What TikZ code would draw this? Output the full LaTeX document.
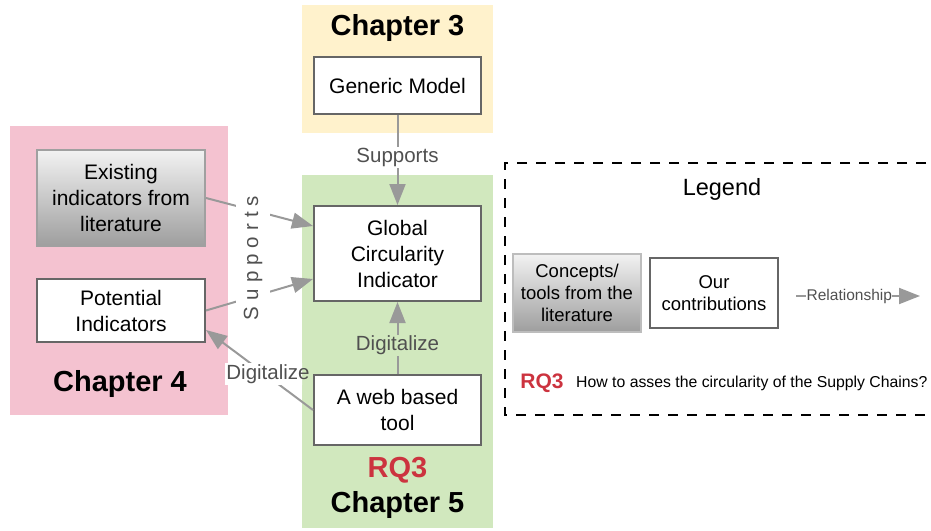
\documentclass[tikz,border=0pt]{standalone}
\usepackage{fontspec}
\setmainfont{Liberation Sans}
\usetikzlibrary{arrows.meta}
\definecolor{pinkbg}{RGB}{244,194,208}
\definecolor{yellowbg}{RGB}{255,242,204}
\definecolor{greenbg}{RGB}{209,232,190}
\definecolor{arrgray}{RGB}{153,153,153}
\definecolor{boxgray}{RGB}{102,102,102}
\definecolor{litborder}{RGB}{160,160,160}
\definecolor{littop}{RGB}{242,242,242}
\definecolor{litbot}{RGB}{158,158,158}
\definecolor{lblgray}{RGB}{80,80,80}
\definecolor{rqred}{RGB}{204,51,63}
\begin{document}
\begin{tikzpicture}[x=1pt,y=-1pt,
  box/.style={draw=boxgray,line width=2pt,fill=white,align=center,inner sep=2pt,
    font=\fontsize{21}{26}\selectfont},
  litbox/.style={draw=litborder,line width=2pt,top color=littop,bottom color=litbot,
    align=center,inner sep=2pt,font=\fontsize{21}{26}\selectfont},
  legbox/.style={box,font=\fontsize{18.5}{21.7}\selectfont},
  leglit/.style={litbox,draw=litborder!70,font=\fontsize{18.5}{21.7}\selectfont},
  arr/.style={draw=arrgray,line width=2pt,-{Triangle[length=21pt,width=16pt]}},
  lbl/.style={text=lblgray,font=\fontsize{20.5}{24}\selectfont,inner sep=1pt},
  chap/.style={font=\fontsize{29}{34}\selectfont\bfseries,inner sep=0pt},
]
\useasboundingbox (0,0) rectangle (931,530);
% backgrounds
\fill[pinkbg] (10,126) rectangle (228,415);
\fill[yellowbg] (302,5) rectangle (493,133);
\fill[greenbg] (302,175) rectangle (493,528);
% chapter labels
\node[chap] (ch3) at (397.5,28) {Chapter 3};
\node[chap] (ch4) at (120,384) {Chapter 4};
\node[chap,text=rqred] (rq3a) at (397.5,470) {RQ3};
\node[chap] (ch5) at (397.5,505) {Chapter 5};
% boxes
\node[box,minimum width=167pt,minimum height=57pt] (gen) at (397.5,85.5) {Generic Model};
\node[box,minimum width=167pt,minimum height=95pt] (glob) at (397.5,253.5) {Global\\Circularity\\Indicator};
\node[box,minimum width=167pt,minimum height=70pt] (web) at (397.5,410) {A web based\\tool};
\node[litbox,minimum width=168pt,minimum height=96pt] (exist) at (121,198) {Existing\\indicators from\\literature};
\node[box,minimum width=168pt,minimum height=63pt] (pot) at (121,310.5) {Potential\\Indicators};
% arrows
\draw[arr] (gen) -- node[lbl,fill=white,pos=0.47] (sup1) {Supports} (glob);
\draw[arr] (web) -- node[lbl,fill=greenbg,pos=0.4] (dig1) {Digitalize} (glob);
\draw[arr] (exist.east) -- ([yshift=27.5pt]glob.west);
\draw[arr] (pot.east) -- ([yshift=-25.5pt]glob.west);
\node[lbl,rotate=90,fill=white,inner ysep=8pt,inner xsep=2pt] (sup2) at (253,258)
  {S\kern6pt u\kern6pt p\kern6pt p\kern6pt o\kern6pt r\kern6pt t\kern6pt s};
\draw[arr] (web.west) -- ([yshift=-19.5pt]pot.east);
\begin{scope}
  \clip (0,0) rectangle (302,530);
  \node[lbl,fill=white,text opacity=0] (dig2bg) at (268,374) {Digitalize};
\end{scope}
\node[lbl] (dig2) at (268,374) {Digitalize};
% legend
\draw[line width=2pt,dash pattern=on 10pt off 9pt] (945,163) -- (505,163) -- (505,415) -- (945,415);
\node[font=\fontsize{23.5}{28}\selectfont] (leg) at (722,189) {Legend};
\node[leglit,minimum width=128pt,minimum height=78pt] (conc) at (577,293) {Concepts/\\tools from the\\literature};
\node[legbox,minimum width=128pt,minimum height=70pt] (contr) at (714,293) {Our\\contributions};
\coordinate (rs) at (796,296);
\coordinate (re) at (920,296);
\draw[arr] (rs) -- node[text=lblgray,font=\fontsize{15.5}{18}\selectfont,fill=white,inner sep=0.5pt,pos=0.43] (rel) {Relationship} (re);
\node[font=\fontsize{21}{25}\selectfont\bfseries,text=rqred,inner sep=0pt] (rq3b) at (542,383) {RQ3};
\node[font=\fontsize{15.8}{19}\selectfont,anchor=west,inner sep=0pt] (rqq) at (576,383) {How to asses the circularity of the Supply Chains?};
\end{tikzpicture}
\end{document}
